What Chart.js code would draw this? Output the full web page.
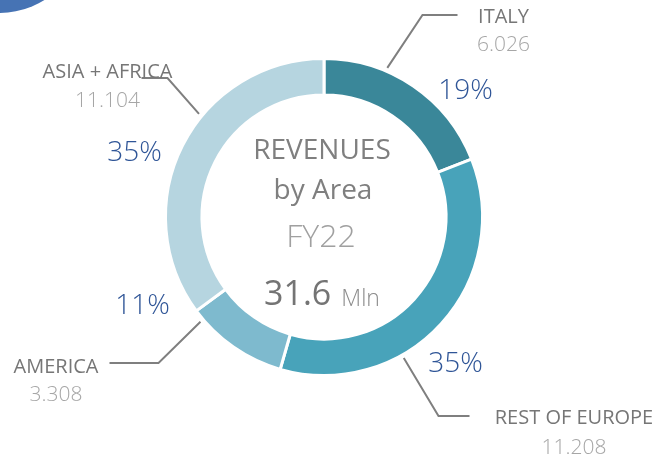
<!DOCTYPE html>
<html>
<head>
<meta charset="utf-8">
<script src="https://cdn.jsdelivr.net/npm/chart.js@4/dist/chart.umd.min.js"></script>
<style>
  html, body { margin: 0; padding: 0; background: #ffffff; }
  #wrap { width: 654px; height: 458px; }
</style>
</head>
<body>
<div id="wrap"><canvas id="c" width="654" height="458"></canvas></div>
<script>
// Revenues by geographic area, FY22 (€ Mln)
const areas = ['ITALY', 'REST OF EUROPE', 'AMERICA', 'ASIA + AFRICA'];
const revenues = [6.026, 11.208, 3.308, 11.104];
const colours = ['#3a8799', '#48a3ba', '#7ebace', '#b6d5e0'];
const titleLines = ['REVENUES', 'by Area'];
const period = 'FY22';
const unit = 'Mln';

const FONT = '"Open Sans", "Noto Sans", sans-serif';
const total = revenues.reduce((a, b) => a + b, 0);

// whole-number shares that add up to 100 (largest remainder)
function shares(vals) {
  const raw = vals.map(v => v / total * 100);
  const out = raw.map(Math.floor);
  let left = 100 - out.reduce((a, b) => a + b, 0);
  raw.map((r, i) => [r - Math.floor(r), i])
     .sort((a, b) => b[0] - a[0])
     .slice(0, left)
     .forEach(([, i]) => out[i] += 1);
  return out;
}
const pct = shares(revenues);

// callout geometry: leader angle (deg, clockwise from 12 o'clock) and
// offsets from the ring centre for the elbow, line end, labels and share
const callouts = [
  { angle: 23,    elbow: [98.5, -202],  end: [133.5, -202], tx: 179.5,  ty: [-194, -166], pct: [141.5, -118] },
  { angle: 150.5, elbow: [114.5, 199],  end: [145.5, 199],  tx: 250,    ty: [207, 237],   pct: [131.5, 155] },
  { angle: 236,   elbow: [-165.5, 146], end: [-214.5, 146], tx: -268,   ty: [156, 184],   pct: [-181.5, 97] },
  { angle: 309.5, elbow: [-156.5, -139],end: [-182.5, -139],tx: -216.5, ty: [-139, -110], pct: [-189.5, -56] }
];

const decor = {
  id: 'decor',
  beforeDraw(chart) {
    const ctx = chart.ctx;
    ctx.save();
    ctx.fillStyle = '#4673b4';
    ctx.beginPath();
    ctx.arc(-1, -73, 86, 0, Math.PI * 2);
    ctx.fill();
    ctx.restore();
  },
  afterDraw(chart) {
    const ctx = chart.ctx;
    const arcs = chart.getDatasetMeta(0).data;
    const cx = arcs[0].x, cy = arcs[0].y, R = arcs[0].outerRadius;

    ctx.save();
    ctx.textAlign = 'center';
    ctx.textBaseline = 'alphabetic';

    // centre caption
    ctx.fillStyle = '#7f7f7f';
    ctx.font = `400 28px ${FONT}`;
    ctx.fillText(titleLines[0], cx - 2, cy - 58);
    ctx.fillText(titleLines[1], cx - 1, cy - 18);
    ctx.fillStyle = '#a0a0a0';
    ctx.font = `300 32px ${FONT}`;
    ctx.fillText(period, cx - 3, cy + 30);

    const big = total.toFixed(1);
    ctx.font = `400 34px ${FONT}`;
    const w1 = ctx.measureText(big).width;
    ctx.font = `300 23px ${FONT}`;
    const w2 = ctx.measureText(unit).width;
    const gap = 10;
    const x0 = cx - 2 - (w1 + gap + w2) / 2;
    ctx.textAlign = 'left';
    ctx.fillStyle = '#747474';
    ctx.font = `400 34px ${FONT}`;
    ctx.fillText(big, x0, cy + 88);
    ctx.fillStyle = '#8c8c8c';
    ctx.font = `300 23px ${FONT}`;
    ctx.fillText(unit, x0 + w1 + gap, cy + 89);
    ctx.textAlign = 'center';

    // callouts
    arcs.forEach((arc, i) => {
      const c = callouts[i];
      // keep the leader inside its own slice
      const s = (arc.startAngle + Math.PI / 2) * 180 / Math.PI;
      const e = (arc.endAngle + Math.PI / 2) * 180 / Math.PI;
      const deg = Math.min(Math.max(c.angle, s + 4), e - 4);
      const a = deg * Math.PI / 180 - Math.PI / 2;
      const r0 = R + 3.5;

      ctx.strokeStyle = '#7f7f7f';
      ctx.lineWidth = 2;
      ctx.beginPath();
      ctx.moveTo(cx + r0 * Math.cos(a), cy + r0 * Math.sin(a));
      ctx.lineTo(cx + c.elbow[0], cy + c.elbow[1]);
      ctx.lineTo(cx + c.end[0], cy + c.end[1]);
      ctx.stroke();

      ctx.fillStyle = '#767676';
      ctx.font = `20px ${FONT}`;
      ctx.fillText(areas[i], cx + c.tx, cy + c.ty[0]);
      ctx.fillStyle = '#a6a6a6';
      ctx.font = `300 21px ${FONT}`;
      ctx.fillText(revenues[i].toFixed(3), cx + c.tx, cy + c.ty[1]);

      ctx.fillStyle = '#2f5597';
      ctx.font = `300 28px ${FONT}`;
      ctx.fillText(pct[i] + '%', cx + c.pct[0], cy + c.pct[1]);
    });
    ctx.restore();
  }
};

new Chart(document.getElementById('c'), {
  type: 'doughnut',
  data: {
    labels: areas,
    datasets: [{
      data: revenues,
      backgroundColor: colours,
      borderColor: '#ffffff',
      borderWidth: 3,
      hoverOffset: 0
    }]
  },
  options: {
    responsive: false,
    animation: false,
    cutout: '77%',
    layout: { padding: { top: 57, bottom: 81, left: 164, right: 170 } },
    plugins: {
      legend: { display: false },
      tooltip: { enabled: false }
    }
  },
  plugins: [decor]
});
</script>
</body>
</html>
